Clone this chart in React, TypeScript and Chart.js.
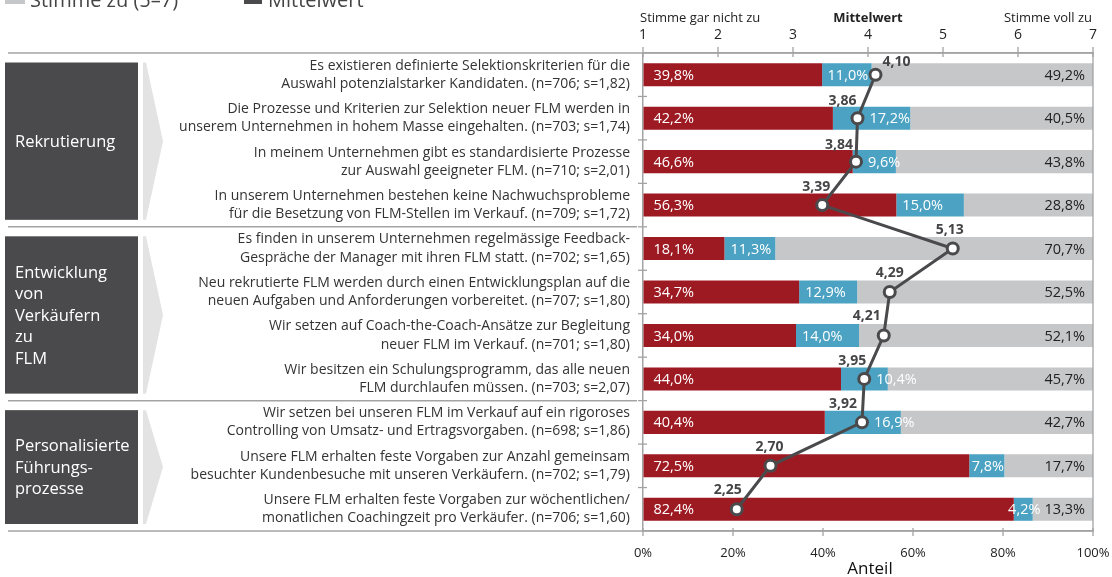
import React, { useEffect, useRef } from "react";
import { Chart, registerables } from "chart.js";

Chart.register(...registerables);

const FONT = "'Open Sans', 'Noto Sans', sans-serif";

// ---------- data ----------
const categories: string[][] = [
  ["Es existieren definierte Selektionskriterien für die", "Auswahl potenzialstarker Kandidaten. (n=706; s=1,82)"],
  ["Die Prozesse und Kriterien zur Selektion neuer FLM werden in", "unserem Unternehmen in hohem Masse eingehalten. (n=703; s=1,74)"],
  ["In meinem Unternehmen gibt es standardisierte Prozesse", "zur Auswahl geeigneter FLM. (n=710; s=2,01)"],
  ["In unserem Unternehmen bestehen keine Nachwuchsprobleme", "für die Besetzung von FLM-Stellen im Verkauf. (n=709; s=1,72)"],
  ["Es finden in unserem Unternehmen regelmässige Feedback-", "Gespräche der Manager mit ihren FLM statt. (n=702; s=1,65)"],
  ["Neu rekrutierte FLM werden durch einen Entwicklungsplan auf die", "neuen Aufgaben und Anforderungen vorbereitet. (n=707; s=1,80)"],
  ["Wir setzen auf Coach-the-Coach-Ansätze zur Begleitung", "neuer FLM im Verkauf. (n=701; s=1,80)"],
  ["Wir besitzen ein Schulungsprogramm, das alle neuen", "FLM durchlaufen müssen. (n=703; s=2,07)"],
  ["Wir setzen bei unseren FLM im Verkauf auf ein rigoroses", "Controlling von Umsatz- und Ertragsvorgaben. (n=698; s=1,86)"],
  ["Unsere FLM erhalten feste Vorgaben zur Anzahl gemeinsam", "besuchter Kundenbesuche mit unseren Verkäufern. (n=702; s=1,79)"],
  ["Unsere FLM erhalten feste Vorgaben zur wöchentlichen/", "monatlichen Coachingzeit pro Verkäufer. (n=706; s=1,60)"],
];
const disagreeShare = [39.8, 42.2, 46.6, 56.3, 18.1, 34.7, 34.0, 44.0, 40.4, 72.5, 82.4];
const neutralShare = [11.0, 17.2, 9.6, 15.0, 11.3, 12.9, 14.0, 10.4, 16.9, 7.8, 4.2];
const agreeShare = [49.2, 40.5, 43.8, 28.8, 70.7, 52.5, 52.1, 45.7, 42.7, 17.7, 13.3];
const meanValues = [4.1, 3.86, 3.84, 3.39, 5.13, 4.29, 4.21, 3.95, 3.92, 2.7, 2.25];

const percentTicks = [0, 20, 40, 60, 80, 100];
const scaleTicks = [1, 2, 3, 4, 5, 6, 7];

const groupNames: string[][] = [
  ["Rekrutierung"],
  ["Entwicklung", "von", "Verkäufern", "zu", "FLM"],
  ["Personalisierte", "Führungs-", "prozesse"],
];
const groupSizes = [4, 4, 3];

const legendLabels = ["Stimme zu (5–7)", "Mittelwert"];
const headerLeft = "Stimme gar nicht zu";
const headerMid = "Mittelwert";
const headerRight = "Stimme voll zu";
const axisTitle = "Anteil";

// the grey segment of each bar runs to the 100% end of the row, as in the source
const agreeBarEnd = percentTicks[percentTicks.length - 1];

// ---------- style / layout ----------
const RED = "#9e1a23";
const BLUE = "#4ba2c2";
const GREY = "#c6c7c9";
const DARK = "#4a4a4c";
const LINE = "#a3a3a3";
// label offsets (dx, dy) for the mean value labels, relative to the point
const meanLabelOffsets: number[][] = [
  [21, -13], [-15, -17], [-17, -17], [-6, -18], [-3, -19], [0, -19],
  [-17, -19], [-12, -18], [-19, -18], [-1, -19], [-9, -19],
];

const fmt = (v: number, d: number) => v.toFixed(d).replace(".", ",");

const decorPlugin = {
  id: "decor",
  beforeDraw(chart: any) {
    const ctx = chart.ctx as CanvasRenderingContext2D;
    const area = chart.chartArea;
    const n = categories.length;
    const rowH = (area.bottom - area.top) / n;
    ctx.save();

    // cut-off legend at the very top
    ctx.fillStyle = GREY;
    ctx.fillRect(5, -12, 20, 16);
    ctx.fillStyle = DARK;
    ctx.fillRect(244, -12, 18, 16);
    ctx.fillStyle = "#444";
    ctx.font = `20px ${FONT}`;
    ctx.textAlign = "left";
    ctx.textBaseline = "alphabetic";
    ctx.fillText(legendLabels[0], 30, 6.5);
    ctx.fillText(legendLabels[1], 268, 6.5);

    // separator lines on the left
    ctx.strokeStyle = LINE;
    ctx.lineWidth = 1.5;
    let idx = 0;
    const bounds = [0];
    groupSizes.forEach((s) => {
      idx += s;
      bounds.push(idx);
    });
    bounds.forEach((b) => {
      const y = area.top + b * rowH;
      ctx.beginPath();
      ctx.moveTo(8, y);
      ctx.lineTo(b === 0 || b === n ? area.right : area.left - 6, y);
      ctx.stroke();
    });

    // group boxes + chevrons
    let start = 0;
    groupSizes.forEach((s, gi) => {
      const top = area.top + start * rowH + 9.5;
      const bottom = area.top + (start + s) * rowH - 7;
      const mid = (top + bottom) / 2;
      ctx.fillStyle = DARK;
      ctx.fillRect(5, top, 133, bottom - top);
      ctx.fillStyle = "#e3e3e3";
      ctx.beginPath();
      ctx.moveTo(143, top);
      ctx.lineTo(146, top);
      ctx.lineTo(163, mid);
      ctx.lineTo(146, bottom);
      ctx.lineTo(143, bottom);
      ctx.closePath();
      ctx.fill();
      const lines = groupNames[gi];
      const lh = 21.5;
      ctx.fillStyle = "#ffffff";
      ctx.font = `16.5px ${FONT}`;
      ctx.textAlign = "left";
      ctx.textBaseline = "middle";
      lines.forEach((t, li) => {
        ctx.fillText(t, 15, mid + 1 + (li - (lines.length - 1) / 2) * lh);
      });
      start += s;
    });
    ctx.restore();
  },
  afterDatasetsDraw(chart: any) {
    const ctx = chart.ctx as CanvasRenderingContext2D;
    const area = chart.chartArea;
    const n = categories.length;
    const redMeta = chart.getDatasetMeta(0);
    const blueMeta = chart.getDatasetMeta(1);
    const greyMeta = chart.getDatasetMeta(2);
    const lineMeta = chart.getDatasetMeta(3);
    ctx.save();
    ctx.textBaseline = "middle";
    ctx.font = `14.5px ${FONT}`;
    for (let j = 0; j < n; j++) {
      const r = redMeta.data[j].getProps(["x", "base", "y"], true);
      const b = blueMeta.data[j].getProps(["x", "base", "y"], true);
      const p = lineMeta.data[j].getProps(["x", "y"], true);
      // red
      ctx.fillStyle = "#ffffff";
      ctx.textAlign = "left";
      ctx.fillText(fmt(disagreeShare[j], 1) + "%", r.base + 10, r.y + 1);
      // blue
      const bt = fmt(neutralShare[j], 1) + "%";
      const w = ctx.measureText(bt).width;
      const s0 = Math.min(b.base, b.x);
      const s1 = Math.max(b.base, b.x);
      if (p.x > s0 && p.x < s1) {
        ctx.textAlign = "left";
        ctx.fillText(bt, Math.max(s0 + 6, p.x + 12), b.y + 1);
      } else if (w > s1 - s0 - 12) {
        ctx.textAlign = "center";
        ctx.fillText(bt, (s0 + s1) / 2 + 1, b.y + 1);
      } else {
        ctx.textAlign = "left";
        ctx.fillText(bt, s0 + 6, b.y + 1);
      }
      // grey
      ctx.fillStyle = "#222";
      ctx.textAlign = "right";
      ctx.fillText(fmt(agreeShare[j], 1) + "%", area.right - 8, b.y + 1);
    }
    // mean labels
    ctx.font = `bold 14px ${FONT}`;
    ctx.fillStyle = "#454547";
    ctx.textAlign = "center";
    for (let j = 0; j < n; j++) {
      const p = lineMeta.data[j].getProps(["x", "y"], true);
      const o = meanLabelOffsets[j];
      ctx.fillText(fmt(meanValues[j], 2), p.x + o[0], p.y + o[1]);
    }
    ctx.restore();
  },
  afterDraw(chart: any) {
    const ctx = chart.ctx as CanvasRenderingContext2D;
    const area = chart.chartArea;
    const n = categories.length;
    const rowH = (area.bottom - area.top) / n;
    const x2 = chart.scales.x2;
    const x = chart.scales.x;
    ctx.save();
    ctx.strokeStyle = LINE;
    ctx.lineWidth = 1.3;
    // right border
    ctx.beginPath();
    ctx.moveTo(area.right, area.top);
    ctx.lineTo(area.right, area.bottom);
    ctx.stroke();
    // left ticks (category boundaries)
    for (let i = 1; i < n; i++) {
      const y = area.top + i * rowH;
      ctx.beginPath();
      ctx.moveTo(area.left - 5, y);
      ctx.lineTo(area.left + 4, y);
      ctx.stroke();
    }
    // top ticks
    scaleTicks.forEach((v) => {
      const px = x2.getPixelForValue(v);
      ctx.beginPath();
      ctx.moveTo(px, area.top - 6);
      ctx.lineTo(px, area.top + 4);
      ctx.stroke();
    });
    // bottom ticks
    percentTicks.forEach((v) => {
      const px = x.getPixelForValue(v);
      ctx.beginPath();
      ctx.moveTo(px, area.bottom - 3);
      ctx.lineTo(px, area.bottom + 5);
      ctx.stroke();
    });
    // header texts
    ctx.fillStyle = "#222";
    ctx.textBaseline = "middle";
    ctx.font = `13px ${FONT}`;
    ctx.textAlign = "left";
    ctx.fillText(headerLeft, area.left - 3, 18);
    ctx.textAlign = "right";
    ctx.fillText(headerRight, area.right - 1, 18);
    ctx.font = `bold 13px ${FONT}`;
    ctx.textAlign = "center";
    ctx.fillText(headerMid, (area.left + area.right) / 2, 18);
    // axis title
    ctx.font = `17px ${FONT}`;
    ctx.fillStyle = "#111";
    ctx.fillText(axisTitle, (area.left + area.right) / 2 + 2, 569);
    ctx.restore();
  },
};

export default function App() {
  const ref = useRef<HTMLCanvasElement | null>(null);

  useEffect(() => {
    if (!ref.current) return;
    const greyBars = disagreeShare.map((d, i) => [d + neutralShare[i], agreeBarEnd]);
    const chart = new Chart(ref.current, {
      type: "bar",
      data: {
        labels: categories as any,
        datasets: [
          { label: "Stimme nicht zu (1–3)", data: disagreeShare, backgroundColor: RED, order: 1, xAxisID: "x", stack: "s" } as any,
          { label: "Neutral (4)", data: neutralShare, backgroundColor: BLUE, order: 1, xAxisID: "x", stack: "s" } as any,
          { label: legendLabels[0], data: greyBars, backgroundColor: GREY, order: 2, xAxisID: "xg", stack: "g" } as any,
          {
            type: "line",
            label: legendLabels[1],
            data: meanValues,
            xAxisID: "x2",
            yAxisID: "y",
            stack: "mean",
            order: 0,
            borderColor: DARK,
            borderWidth: 3,
            pointRadius: 5.5,
            pointBorderWidth: 3,
            pointBackgroundColor: "#ffffff",
            pointBorderColor: DARK,
            tension: 0,
            fill: false,
          } as any,
        ],
      },
      options: {
        indexAxis: "y",
        animation: false,
        responsive: true,
        maintainAspectRatio: false,
        layout: { padding: { left: 0, right: 19, top: 0, bottom: 0 } },
        datasets: { bar: { categoryPercentage: 1, barPercentage: 0.53, grouped: false } } as any,
        plugins: { legend: { display: false }, tooltip: { enabled: false }, title: { display: false } },
        scales: {
          x: {
            type: "linear",
            position: "bottom",
            min: 0,
            max: 100,
            stacked: true,
            afterBuildTicks: (s: any) => {
              s.ticks = percentTicks.map((v) => ({ value: v }));
            },
            ticks: {
              callback: (v: any) => v + "%",
              font: { family: FONT, size: 13 },
              color: "#222",
              padding: 9,
              maxRotation: 0,
              autoSkip: false,
            },
            grid: { display: true, drawOnChartArea: false, color: "transparent", tickColor: "transparent", tickLength: 5 },
            border: { display: true, color: LINE, width: 1.5 },
            afterFit: (s: any) => {
              s.height = 46;
              s.paddingLeft = 0;
              s.paddingRight = 0;
            },
          },
          xg: {
            type: "linear",
            display: false,
            min: 0,
            max: 100,
          },
          x2: {
            type: "linear",
            position: "top",
            min: 1,
            max: 7,
            afterBuildTicks: (s: any) => {
              s.ticks = scaleTicks.map((v) => ({ value: v }));
            },
            ticks: {
              font: { family: FONT, size: 14 },
              color: "#222",
              padding: 4,
              maxRotation: 0,
              autoSkip: false,
            },
            grid: { display: true, drawOnChartArea: false, color: "transparent", tickColor: "transparent", tickLength: 6 },
            border: { display: true, color: LINE, width: 1.5 },
            afterFit: (s: any) => {
              s.height = 53;
              s.paddingLeft = 0;
              s.paddingRight = 0;
            },
          },
          y: {
            type: "category",
            stacked: true,
            offset: true,
            ticks: {
              font: { family: FONT, size: 14, lineHeight: 1.3 },
              color: "#333",
              padding: 7,
              autoSkip: false,
            },
            grid: { display: true, offset: true, drawOnChartArea: false, color: "transparent", tickColor: "transparent", tickLength: 6 },
            border: { display: true, color: LINE, width: 1.5 },
            afterFit: (s: any) => {
              s.width = 643;
              s.paddingTop = 0;
              s.paddingBottom = 0;
            },
          },
        },
      } as any,
      plugins: [decorPlugin],
    });
    return () => chart.destroy();
  }, []);

  return (
    <div style={{ position: "absolute", left: 0, top: 0, width: 1112, height: 577, background: "#fff" }}>
      <canvas ref={ref} />
    </div>
  );
}
